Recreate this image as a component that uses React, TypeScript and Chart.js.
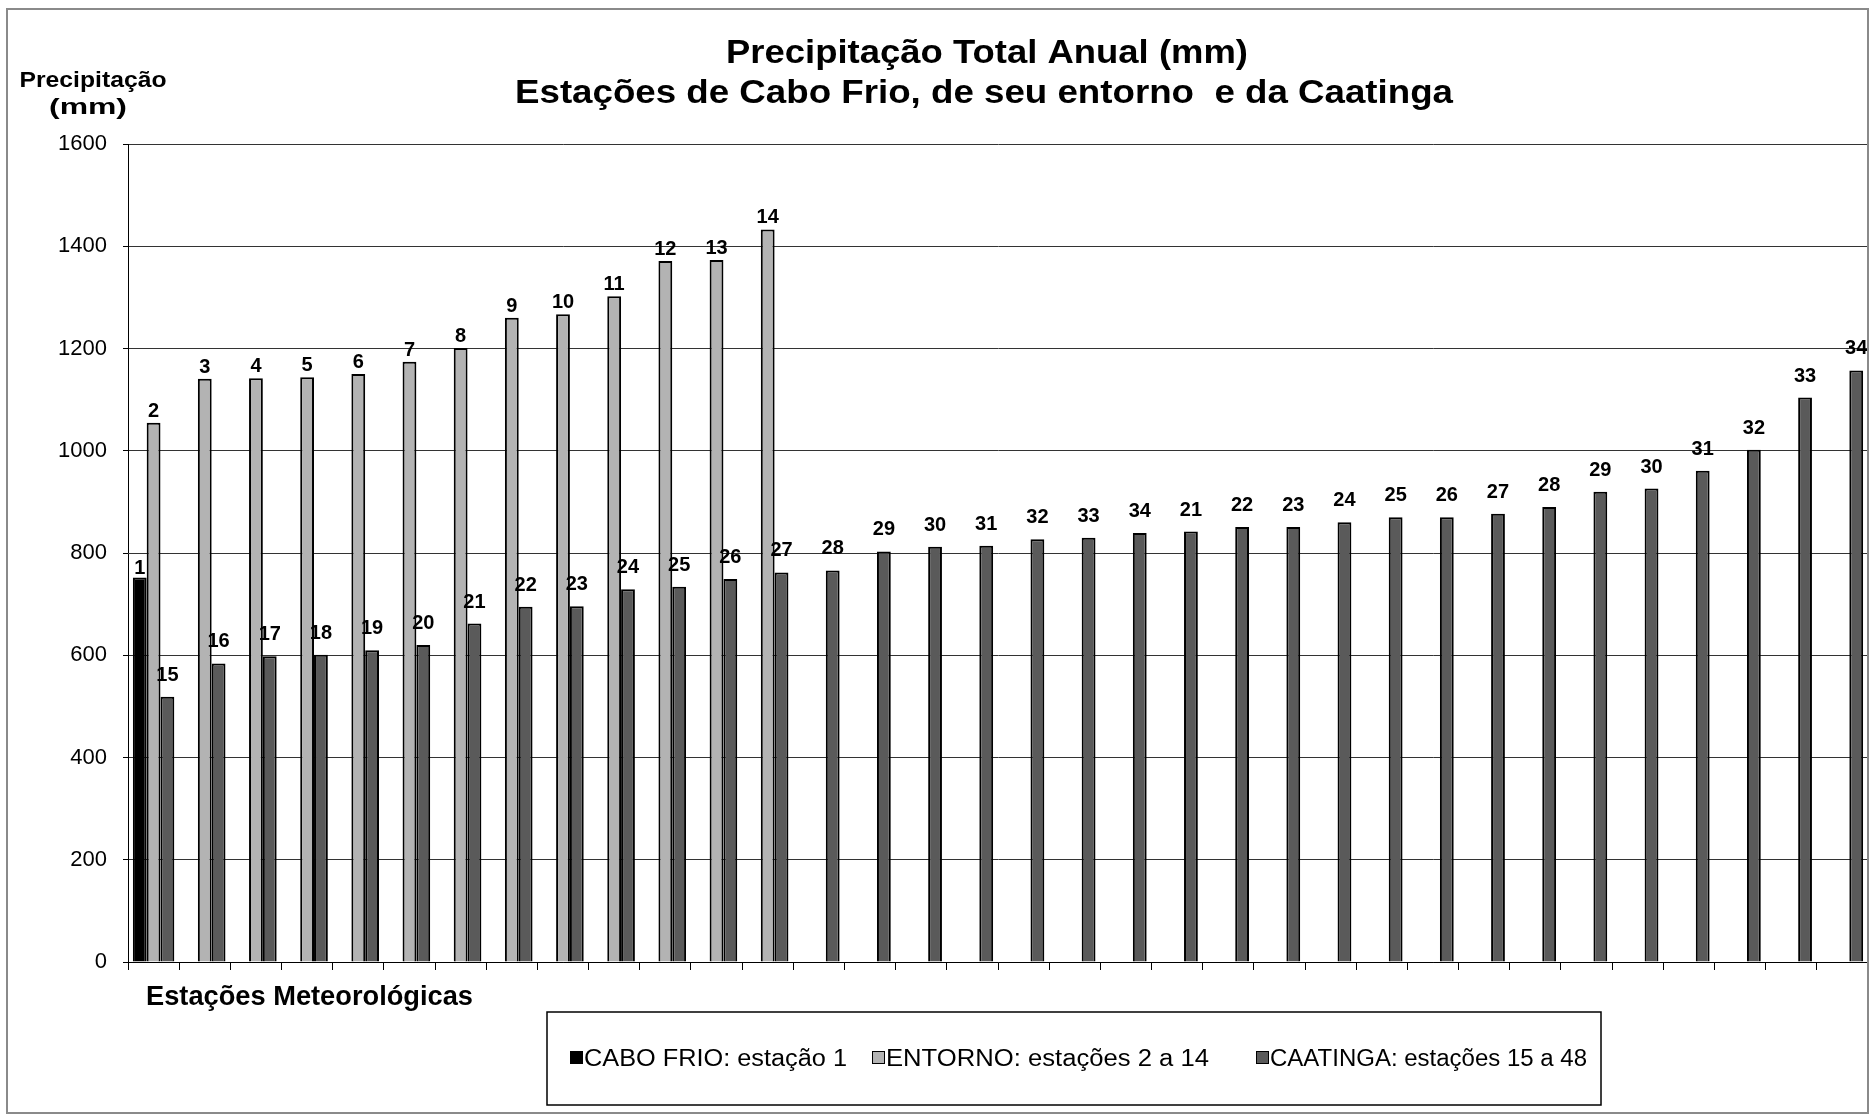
import React, { useEffect, useRef } from "react";
import { Chart, registerables } from "chart.js";

Chart.register(...registerables);

const FONT = '"Liberation Sans", Arial, Helvetica, sans-serif';

// ---- data ----
const categories: string[] = [
  "1", "2", "3", "4", "5", "6", "7", "8", "9", "10", "11", "12", "13", "14", "15", "16", "17",
  "18", "19", "20", "21", "22", "23", "24", "25", "26", "27", "28", "29", "30", "31", "32", "33", "34",
];

const caboFrio: (number | null)[] = [752];
const caboFrioLabels: string[] = ["1"];

const entorno: (number | null)[] = [1055, 1141, 1142, 1144, 1150, 1174, 1201, 1260, 1267, 1302, 1371, 1373, 1433];
const entornoLabels: string[] = ["2", "3", "4", "5", "6", "7", "8", "9", "10", "11", "12", "13", "14"];

const caatinga: number[] = [
  519, 584, 598, 601, 610, 620, 662, 695, 696, 729, 734, 749, 762, 766, 803, 812, 814,
  827, 830, 839, 842, 851, 851, 860, 870, 870, 877, 890, 920, 926, 961, 1002, 1104, 1157,
];
const caatingaLabels: string[] = [
  "15", "16", "17", "18", "19", "20", "21", "22", "23", "24", "25", "26", "27", "28", "29", "30", "31",
  "32", "33", "34", "21", "22", "23", "24", "25", "26", "27", "28", "29", "30", "31", "32", "33", "34",
];

const seriesNames: string[] = [
  "CABO FRIO: estação 1",
  "ENTORNO: estações 2 a 14",
  "CAATINGA: estações 15 a 48",
];

const titleLines: string[] = [
  "Precipitação Total Anual (mm)",
  "Estações de Cabo Frio, de seu entorno  e da Caatinga",
];
const yTitleLines: string[] = ["Precipitação", "(mm)"];
const xTitle = "Estações Meteorológicas";

const yMin = 0;
const yMax = 1600;
const yStep = 200;

// ---- styles ----
const fillColors = ["#000000", "#b3b3b3", "#5a5a5a"];
const labelOffsets = [4, 6, 16];

function fitText(
  ctx: CanvasRenderingContext2D,
  text: string,
  x: number,
  y: number,
  font: string,
  width: number,
  align: CanvasTextAlign
) {
  ctx.save();
  ctx.font = font;
  const w = ctx.measureText(text).width;
  const s = width / w;
  ctx.translate(x, y);
  ctx.scale(s, 1);
  ctx.textAlign = align;
  ctx.textBaseline = "alphabetic";
  ctx.fillStyle = "#000";
  ctx.fillText(text, 0, 0);
  ctx.restore();
}

const decorPlugin = {
  id: "decor",
  afterDatasetsDraw(chart: any) {
    const ctx: CanvasRenderingContext2D = chart.ctx;
    const labelSets = [caboFrioLabels, entornoLabels, caatingaLabels];
    ctx.save();
    ctx.font = `bold 20px ${FONT}`;
    ctx.fillStyle = "#000";
    ctx.textAlign = "center";
    ctx.textBaseline = "alphabetic";
    chart.data.datasets.forEach((ds: any, i: number) => {
      const meta = chart.getDatasetMeta(i);
      meta.data.forEach((el: any, j: number) => {
        const v = ds.data[j];
        if (v === null || v === undefined) return;
        const lbl = labelSets[i][j];
        if (!lbl) return;
        ctx.fillText(lbl, el.x, el.y - labelOffsets[i]);
      });
    });
    ctx.restore();
  },
  afterDraw(chart: any) {
    const ctx: CanvasRenderingContext2D = chart.ctx;
    // outer frame
    ctx.save();
    ctx.strokeStyle = "#8a8a8a";
    ctx.lineWidth = 2;
    ctx.strokeRect(7, 9, 1861, 1104);
    ctx.restore();

    // titles
    fitText(ctx, titleLines[0], 987, 63, `bold 33px ${FONT}`, 522, "center");
    fitText(ctx, titleLines[1], 984, 103, `bold 33px ${FONT}`, 938, "center");
    fitText(ctx, yTitleLines[0], 93, 87, `bold 22px ${FONT}`, 147, "center");
    fitText(ctx, yTitleLines[1], 88, 114, `bold 22px ${FONT}`, 78, "center");
    fitText(ctx, xTitle, 146, 1005, `bold 28px ${FONT}`, 327, "left");

    // legend
    ctx.save();
    ctx.strokeStyle = "#000";
    ctx.lineWidth = 1.5;
    ctx.strokeRect(547, 1012, 1054, 93);
    const sqX = [570, 872, 1256];
    const txX = [584, 886, 1270];
    const txW = [263, 323, 317];
    for (let i = 0; i < 3; i++) {
      ctx.fillStyle = fillColors[i];
      ctx.fillRect(sqX[i], 1051, 13, 13);
      ctx.strokeStyle = "#000";
      ctx.lineWidth = 1;
      ctx.strokeRect(sqX[i] + 0.5, 1051.5, 12, 12);
      fitText(ctx, seriesNames[i], txX[i], 1066, `23px ${FONT}`, txW[i], "left");
    }
    ctx.restore();
  },
};

export default function App() {
  const ref = useRef<HTMLCanvasElement | null>(null);

  useEffect(() => {
    if (!ref.current) return;
    Chart.defaults.font.family = FONT;
    const mk = (label: string, data: (number | null)[], color: string) => ({
      label,
      data,
      backgroundColor: color,
      borderColor: "#000",
      borderWidth: 2,
      barPercentage: 1,
      categoryPercentage: 0.81,
    });
    const chart = new Chart(ref.current, {
      type: "bar",
      data: {
        labels: categories,
        datasets: [
          mk(seriesNames[0], caboFrio, fillColors[0]),
          mk(seriesNames[1], entorno, fillColors[1]),
          mk(seriesNames[2], caatinga, fillColors[2]),
        ],
      },
      options: {
        responsive: false,
        animation: false,
        devicePixelRatio: 1,
        layout: { padding: { top: 144, left: 0, right: 3, bottom: 145 } },
        plugins: {
          legend: { display: false },
          title: { display: false },
          tooltip: { enabled: false },
        },
        scales: {
          x: {
            grid: {
              offset: true,
              drawOnChartArea: false,
              drawTicks: true,
              tickLength: 8,
              color: "#000",
              tickColor: "#000",
            },
            border: { display: true, color: "#000", width: 1 },
            ticks: { display: false },
            afterFit: (s: any) => {
              s.height = 8;
            },
          },
          y: {
            min: yMin,
            max: yMax,
            ticks: {
              stepSize: yStep,
              font: { size: 22, family: FONT },
              color: "#000",
              padding: 16,
              callback: (v: any) => String(v),
            },
            grid: { color: "#333", tickColor: "#000", tickLength: 5, drawTicks: true },
            border: { display: true, color: "#000", width: 1 },
            afterFit: (s: any) => {
              s.width = 128;
            },
          },
        },
      } as any,
      plugins: [decorPlugin],
    });
    return () => chart.destroy();
  }, []);

  return (
    <div style={{ position: "absolute", left: 0, top: 0, width: 1871, height: 1115, background: "#fff" }}>
      <canvas ref={ref} width={1871} height={1115} />
    </div>
  );
}
